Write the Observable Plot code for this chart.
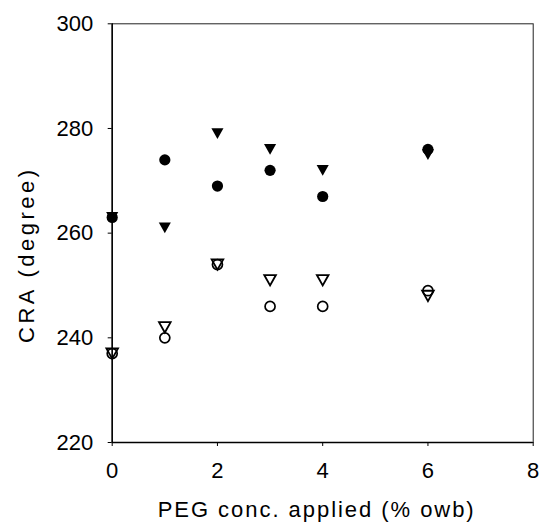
<!DOCTYPE html>
<html><head><meta charset="utf-8">
<script src="https://cdn.jsdelivr.net/npm/d3@7"></script>
<script src="https://cdn.jsdelivr.net/npm/@observablehq/plot@0.6"></script>
<style>body{margin:0;background:#fff}</style>
</head><body><div id="chart"></div>
<script>
const conc = [0, 1, 2, 3, 4, 6];
const filledCircle = [263, 274, 269, 272, 267, 276];
const filledTriangle = [263, 261, 279, 276, 272, 275];
const openCircle = [237, 240, 254, 246, 246, 249];
const openTriangle = [237, 242, 254, 251, 251, 248];
const xTicks = [0, 2, 4, 6, 8];
const yTicks = [220, 240, 260, 280, 300];
const xTitle = "PEG conc. applied (% owb)";
const yTitle = "CRA (degree)";

const rows = vals => conc.map((c, i) => ({x: c, y: vals[i]}));

const downTriangle = {
  draw(ctx, size) {
    const r = Math.sqrt(size / Math.PI);
    const w = r * 1.12, h = r * 1.0;
    ctx.moveTo(-w, -h);
    ctx.lineTo(w, -h);
    ctx.lineTo(0, h);
    ctx.closePath();
  }
};

const svg = Plot.plot({
  width: 539,
  height: 524,
  marginLeft: 111.7,
  marginRight: 6.3,
  marginTop: 23.3,
  marginBottom: 82,
  style: {fontSize: "22px", fontFamily: "'Liberation Sans', Arial, sans-serif", color: "#000", background: "#fff"},
  x: {domain: [0, 8], ticks: xTicks, tickSize: 4, tickPadding: 16, label: null, tickFormat: d => String(d)},
  y: {domain: [220, 300], ticks: yTicks, tickSize: 4, tickPadding: 15, label: null, tickFormat: d => String(d)},
  marks: [
    Plot.frame({stroke: "#222", strokeWidth: 1}),
    Plot.ruleX([0], {stroke: "#000", strokeWidth: 1.5}),
    Plot.ruleY([220], {stroke: "#000", strokeWidth: 1.3}),
    Plot.dot(rows(openCircle), {x: "x", y: "y", r: 5, fill: "none", stroke: "#000", strokeWidth: 1.7}),
    Plot.dot(rows(openTriangle), {x: "x", y: "y", r: 5.2, symbol: downTriangle, fill: "none", stroke: "#000", strokeWidth: 1.8}),
    Plot.dot(rows(filledCircle), {x: "x", y: "y", r: 5.6, fill: "#000", stroke: "none"}),
    Plot.dot(rows(filledTriangle), {x: "x", y: "y", r: 5.4, symbol: downTriangle, fill: "#000", stroke: "none"}),
    Plot.text([xTitle], {text: d => d, frameAnchor: "bottom", textAnchor: "middle", lineAnchor: "middle", dy: 67.6, dx: -7, fontSize: 22, fill: "#000"}),
    Plot.text([yTitle], {text: d => d, frameAnchor: "left", textAnchor: "middle", lineAnchor: "middle", rotate: -90, dx: -85.5, dy: 23.3, fontSize: 22, fill: "#000"})
  ]
});

d3.select(svg).selectAll("text").each(function() {
  const t = this.textContent;
  if (t === xTitle) { this.setAttribute("textLength", 316); this.setAttribute("lengthAdjust", "spacing"); }
  if (t === yTitle) { this.setAttribute("textLength", 173); this.setAttribute("lengthAdjust", "spacing"); }
});

document.getElementById("chart").appendChild(svg);
</script>
</body></html>
